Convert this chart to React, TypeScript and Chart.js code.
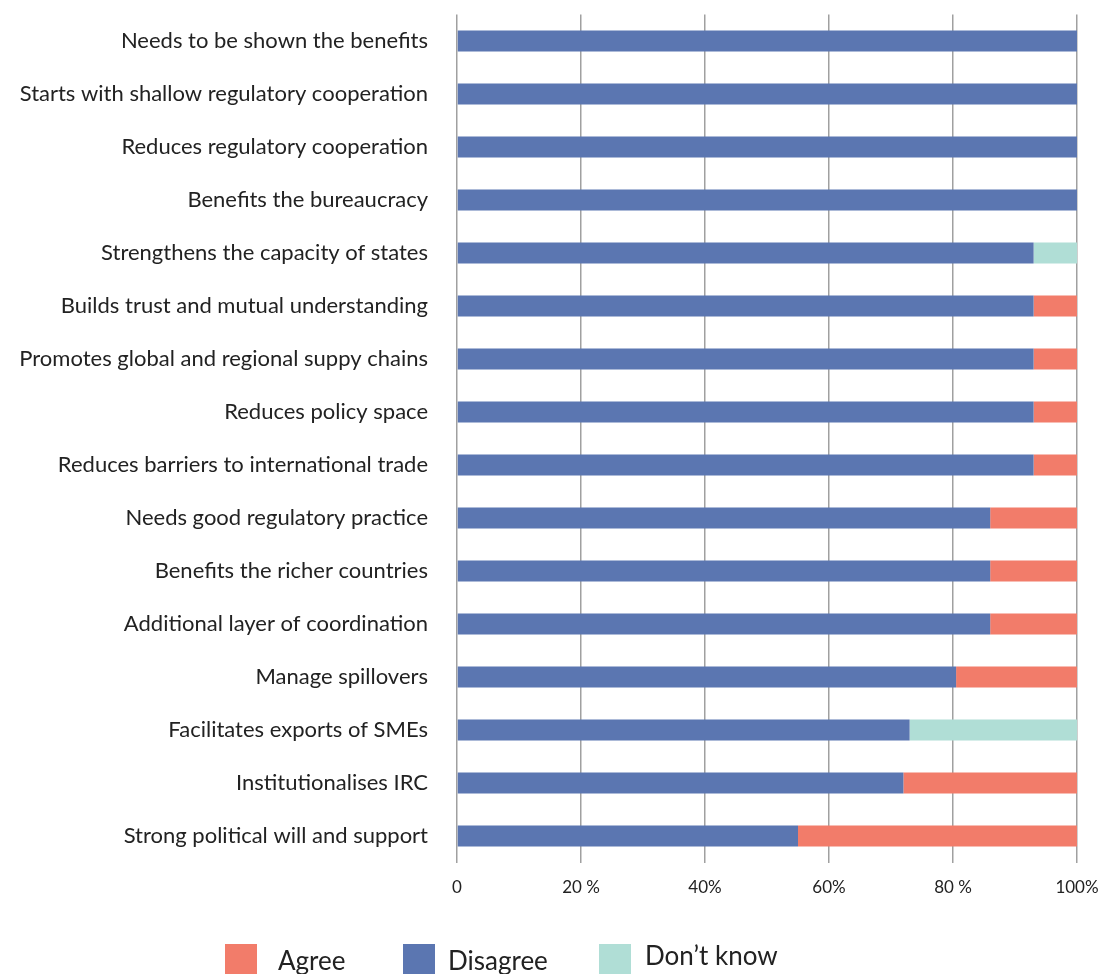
import React, { useEffect, useRef } from "react";
import { Chart, registerables } from "chart.js";

Chart.register(...registerables);

const categories = [
  "Needs to be shown the benefits",
  "Starts with shallow regulatory cooperation",
  "Reduces regulatory cooperation",
  "Benefits the bureaucracy",
  "Strengthens the capacity of states",
  "Builds trust and mutual understanding",
  "Promotes global and regional suppy chains",
  "Reduces policy space",
  "Reduces barriers to international trade",
  "Needs good regulatory practice",
  "Benefits the richer countries",
  "Additional layer of coordination",
  "Manage spillovers",
  "Facilitates exports of SMEs",
  "Institutionalises IRC",
  "Strong political will and support",
];

const disagree = [100, 100, 100, 100, 93, 93, 93, 93, 93, 86, 86, 86, 80.5, 73, 72, 55];
const agree = [0, 0, 0, 0, 0, 7, 7, 7, 7, 14, 14, 14, 19.5, 0, 28, 45];
const dontKnow = [0, 0, 0, 0, 7, 0, 0, 0, 0, 0, 0, 0, 0, 27, 0, 0];

const xTickLabels = ["0", "20 %", "40%", "60%", "80 %", "100%"];
const legendOrder = ["Agree", "Disagree", "Don\u2019t know"];

const FONT = "Lato, 'Open Sans', sans-serif";

// legend layout (pixel placement only)
const legendBoxX = [225, 403, 599];
const legendTextX = [278, 448, 645];
const legendTextY = [962, 962, 957];

const bottomLegend = {
  id: "bottomLegend",
  afterDraw(chart: any) {
    const ctx = chart.ctx;
    ctx.save();
    ctx.font = `26px ${FONT}`;
    ctx.textBaseline = "middle";
    ctx.textAlign = "left";
    legendOrder.forEach((name, i) => {
      const ds = chart.data.datasets.find((d: any) => d.label === name);
      ctx.fillStyle = ds ? ds.backgroundColor : "#000";
      ctx.fillRect(legendBoxX[i], 944, 32, 32);
      ctx.fillStyle = "#222";
      ctx.fillText(name, legendTextX[i], legendTextY[i]);
    });
    ctx.restore();
  },
};

export default function App() {
  const ref = useRef<HTMLCanvasElement | null>(null);

  useEffect(() => {
    document.body.style.margin = "0";
    const canvas = ref.current;
    if (!canvas) return;
    const chart = new Chart(canvas, {
      type: "bar",
      data: {
        labels: categories,
        datasets: [
          { label: "Disagree", data: disagree, backgroundColor: "#5b76b1", barPercentage: 0.4, categoryPercentage: 1 },
          { label: "Agree", data: agree, backgroundColor: "#f27c6a", barPercentage: 0.4, categoryPercentage: 1 },
          { label: "Don\u2019t know", data: dontKnow, backgroundColor: "#b0ded6", barPercentage: 0.4, categoryPercentage: 1 },
        ],
      },
      options: {
        indexAxis: "y",
        responsive: false,
        animation: false,
        layout: { padding: { top: 14.5, left: 0, right: 21, bottom: 71.5 } },
        scales: {
          x: {
            stacked: true,
            min: 0,
            max: 100,
            ticks: {
              stepSize: 20,
              padding: 0,
              color: "#222",
              font: { family: FONT, size: 17 },
              callback: (_v: any, i: number) => xTickLabels[i],
            },
            grid: {
              color: "#a0a0a0",
              lineWidth: 1.5,
              drawTicks: true,
              tickLength: 15,
              tickColor: "rgba(0,0,0,0)",
            },
            border: { display: false },
            afterFit: (s: any) => {
              s.height = 40;
              s.paddingRight = 0;
              s.paddingLeft = 0;
            },
          },
          y: {
            stacked: true,
            ticks: {
              padding: 0,
              color: "#222",
              autoSkip: false,
              font: { family: FONT, size: 22 },
            },
            grid: {
              display: true,
              drawOnChartArea: false,
              drawTicks: true,
              tickLength: 29,
              tickColor: "rgba(0,0,0,0)",
            },
            border: { display: false },
            afterFit: (s: any) => {
              s.width = 457;
            },
          },
        },
        plugins: {
          tooltip: { enabled: false },
          legend: { display: false },
        },
      },
      plugins: [bottomLegend],
    });
    return () => chart.destroy();
  }, []);

  return (
    <div style={{ width: 1098, height: 974, overflow: "hidden" }}>
      <canvas ref={ref} width={1098} height={974} style={{ display: "block" }} />
    </div>
  );
}
